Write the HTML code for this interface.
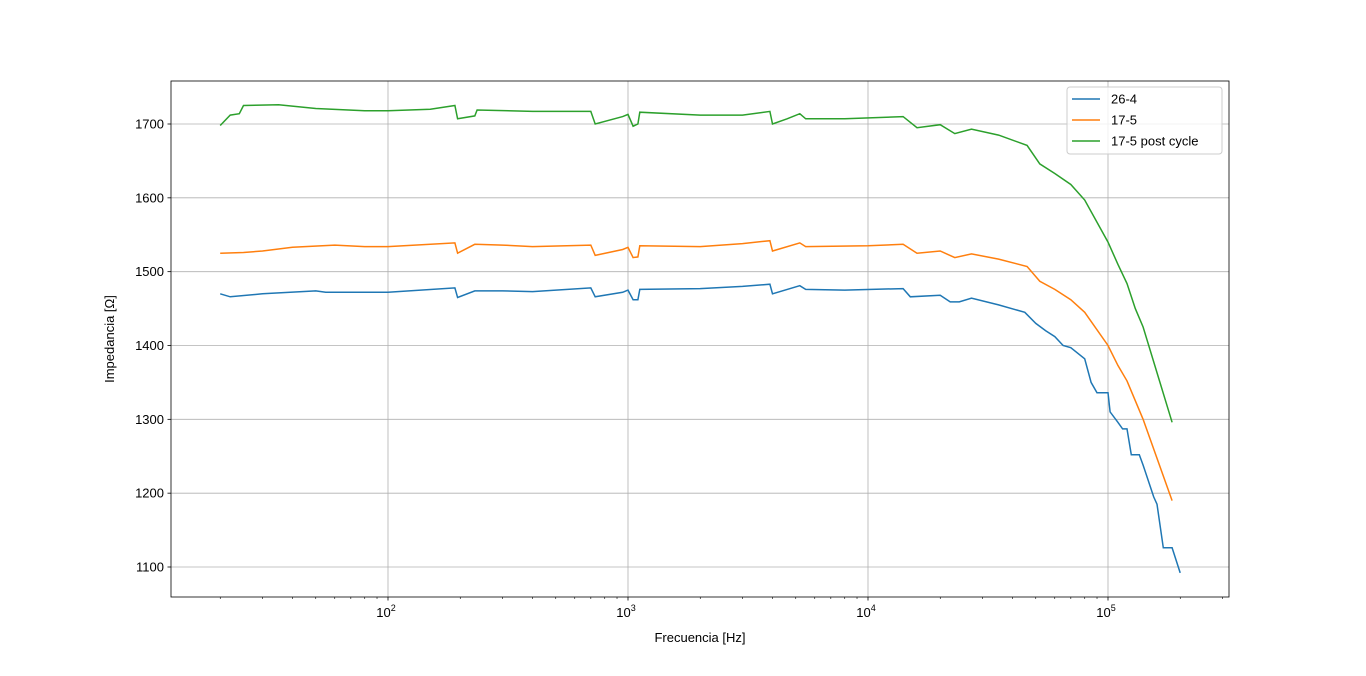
<!DOCTYPE html>
<html><head><meta charset="utf-8"><style>
body{margin:0;background:#fff;}
svg{font-family:"Liberation Sans","DejaVu Sans",sans-serif;}
</style></head><body>
<svg id="chart" width="1366" height="671">
<g id="grid"></g><g id="series"></g><g id="axes"></g>
</svg>
<script>
const freqBlue=[20,22,30,50,55,100,190,195,230,300,400,700,730,950,1000,1050,1100,1120,2000,3000,3900,4000,5200,5500,8000,14000,15000,20000,22000,24000,27000,35000,45000,50000,55000,60000,65000,70000,80000,85000,90000,100000,102000,110000,115000,120000,125000,135000,140000,155000,160000,170000,185000,200000];
const valBlue=[1470,1466,1470,1474,1472,1472,1478,1465,1474,1474,1473,1478,1466,1472,1475,1462,1462,1476,1477,1480,1483,1470,1481,1476,1475,1477,1466,1468,1459,1459,1464,1455,1445,1430,1420,1412,1400,1397,1382,1350,1336,1336,1310,1296,1287,1287,1252,1252,1238,1195,1185,1126,1126,1092];
const freqOrange=[20,25,30,40,60,80,100,190,195,230,300,400,700,730,950,1000,1050,1100,1120,2000,3000,3900,4000,5200,5500,10000,14000,16000,20000,23000,27000,35000,46000,52000,60000,70000,80000,100000,110000,120000,140000,185000];
const valOrange=[1525,1526,1528,1533,1536,1534,1534,1539,1525,1537,1536,1534,1536,1522,1530,1533,1519,1520,1535,1534,1538,1542,1528,1539,1534,1535,1537,1525,1528,1519,1524,1517,1507,1487,1476,1462,1445,1400,1373,1352,1300,1190];
const freqGreen=[20,22,24,25,35,50,80,100,150,190,195,230,235,400,700,730,950,1000,1050,1100,1120,2000,3000,3900,4000,4600,5200,5500,8000,14000,16000,20000,23000,27000,35000,46000,52000,60000,70000,80000,100000,110000,120000,130000,140000,185000];
const valGreen=[1698,1712,1714,1725,1726,1721,1718,1718,1720,1725,1707,1711,1719,1717,1717,1700,1710,1713,1697,1700,1716,1712,1712,1717,1700,1707,1714,1707,1707,1710,1695,1699,1687,1693,1685,1671,1646,1633,1618,1597,1540,1510,1484,1450,1425,1296];
const yTicks=[1100,1200,1300,1400,1500,1600,1700];
const xTicks=[2,3,4,5];
const seriesNames=["26-4","17-5","17-5 post cycle"];
const colors=["#1f77b4","#ff7f0e","#2ca02c"];

const NS="http://www.w3.org/2000/svg";
const L=171,R=1229,T=81,B=597;
function xs(f){return 388+(Math.log10(f)-2)*240;}
function ys(v){return 124+(1700-v)*443/600;}
function mk(tag,attrs,parent,text){const e=document.createElementNS(NS,tag);for(const k in attrs)e.setAttribute(k,attrs[k]);if(text!==undefined)e.textContent=text;parent.appendChild(e);return e;}
const grid=document.getElementById('grid'),ser=document.getElementById('series'),ax=document.getElementById('axes');
yTicks.forEach(v=>{
  const g=mk('line',{x1:L,x2:R,y1:ys(v),y2:ys(v),stroke:'#b0b0b0','stroke-width':0.8},grid);
  
  
  mk('line',{x1:L-3.5,x2:L,y1:ys(v),y2:ys(v),stroke:'#000','stroke-width':0.8},ax);
  const t=mk('text',{x:L-7,y:ys(v)+4.5,'text-anchor':'end','font-size':13},ax,v);
  
  
});
xTicks.forEach(p=>{
  const x=xs(Math.pow(10,p));
  const g=mk('line',{x1:x,x2:x,y1:T,y2:B,stroke:'#b0b0b0','stroke-width':0.8},grid);
  
  
  mk('line',{x1:x,x2:x,y1:B,y2:B+3.5,stroke:'#000','stroke-width':0.8},ax);
  const t=mk('text',{x:x-2,y:B+20,'text-anchor':'middle','font-size':13},ax);
  
  
  t.textContent='10';
  mk('tspan',{dy:-6,'font-size':9},t,p);
  for(let m=2;m<10;m++){const mx=xs(m*Math.pow(10,p-1));if(mx>L&&mx<R)mk('line',{x1:mx,x2:mx,y1:B,y2:B+2,stroke:'#000','stroke-width':0.6},ax);}
  if(p==5){for(let m=2;m<10;m++){const mx=xs(m*1e5);if(mx<R)mk('line',{x1:mx,x2:mx,y1:B,y2:B+2,stroke:'#000','stroke-width':0.6},ax);}}
});
[[freqBlue,valBlue],[freqOrange,valOrange],[freqGreen,valGreen]].forEach((s,i)=>{
  const d=s[0].map((f,j)=>(j?'L':'M')+xs(f).toFixed(1)+','+ys(s[1][j]).toFixed(1)).join('');
  const p=mk('path',{d:d,fill:'none',stroke:colors[i],'stroke-width':1.5},ser);
  
  
});
const frame=mk('rect',{x:L,y:T,width:R-L,height:B-T,fill:'none',stroke:'#000','stroke-width':0.8},ax);


const xl=mk('text',{x:700,y:642,'text-anchor':'middle','font-size':13},ax,'Frecuencia [Hz]');


const yl=mk('text',{x:114,y:339,'text-anchor':'middle','font-size':13,transform:'rotate(-90 114 339)'},ax,'Impedancia [Ω]');


const lg=mk('g',{},ax);


mk('rect',{x:1067,y:87,width:155,height:67,rx:3,fill:'#fff','fill-opacity':0.8,stroke:'#ccc'},lg);
seriesNames.forEach((n,i)=>{
  const y=99+i*21;
  mk('line',{x1:1072,x2:1100,y1:y,y2:y,stroke:colors[i],'stroke-width':1.5},lg);
  const t=mk('text',{x:1111,y:y+4.5,'font-size':13},lg,n);
  
  
});
</script>
</body></html>
